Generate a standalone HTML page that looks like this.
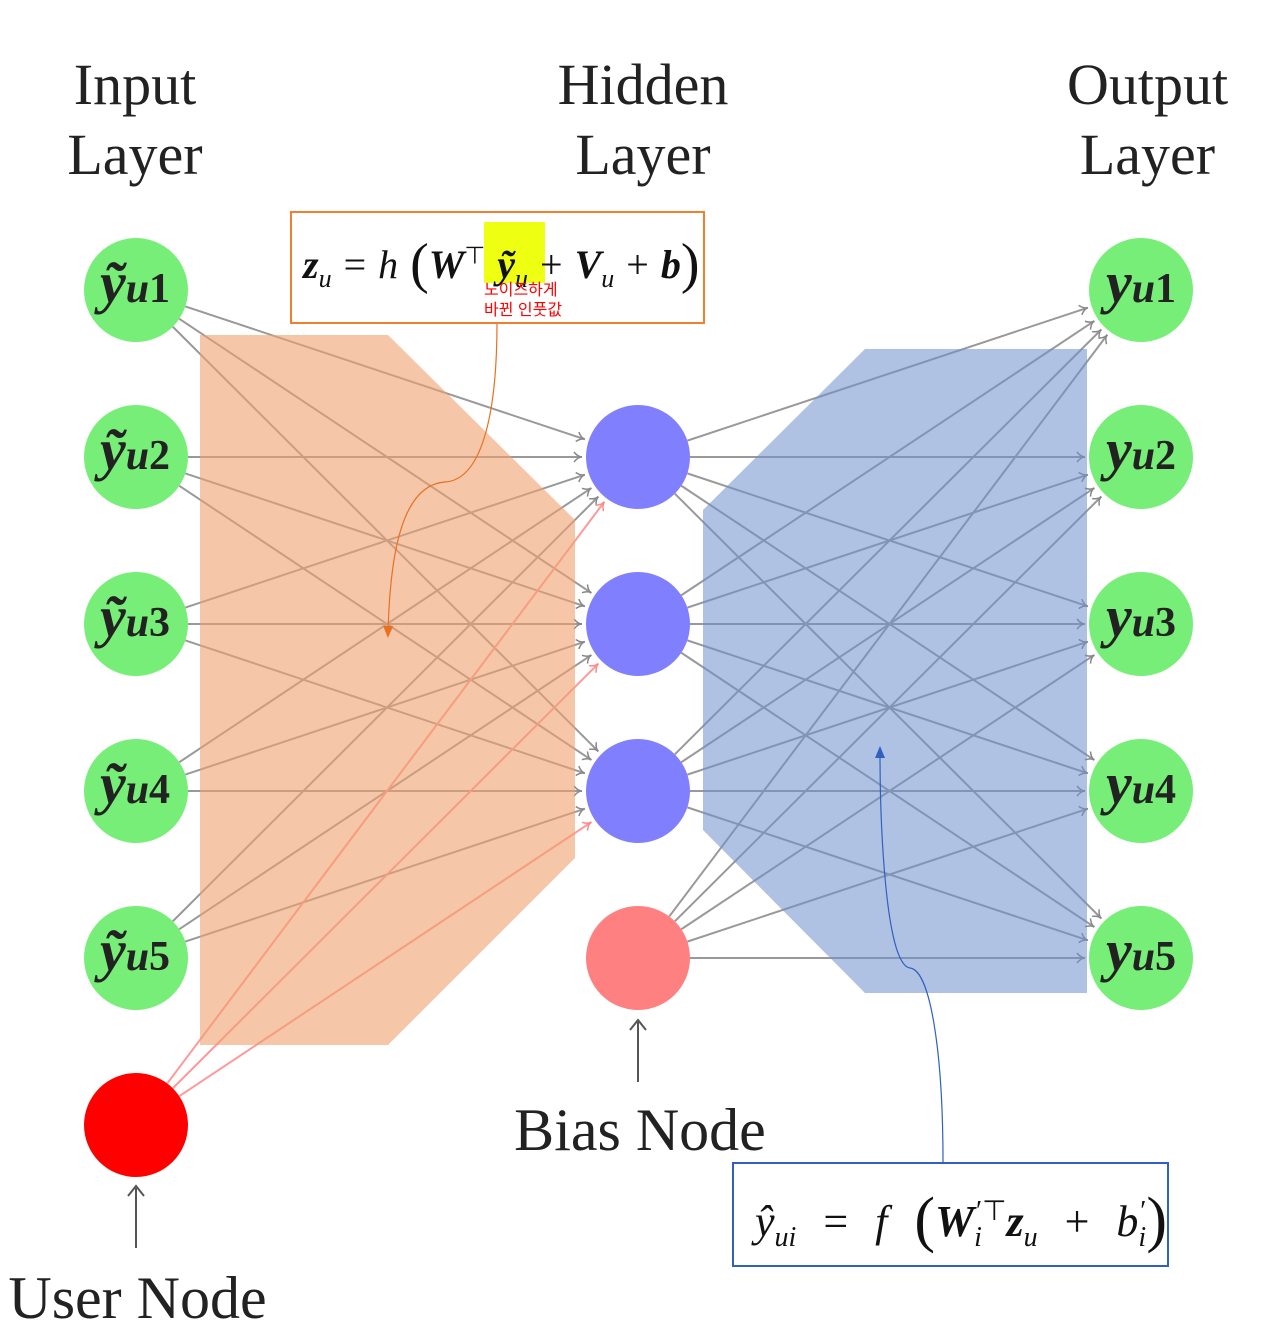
<!DOCTYPE html>
<html><head><meta charset="utf-8"><style>
html,body{margin:0;padding:0;background:#fff;}
body{width:1280px;height:1339px;position:relative;overflow:hidden;font-family:"Liberation Serif",serif;}
.t{position:absolute;font-size:58px;color:#222;text-align:center;line-height:70px;}
.box{position:absolute;background:#fff;box-sizing:border-box;}
.f{position:absolute;font-family:"Liberation Serif",serif;color:#111;white-space:nowrap;}
.kr{position:absolute;color:#f00;font-family:"Liberation Sans","Noto Sans CJK KR",sans-serif;font-size:16px;line-height:20px;}
</style></head><body>
<svg id="s" width="1280" height="1339" style="position:absolute;left:0;top:0">
<defs>
<marker id="ag" markerWidth="12" markerHeight="12" refX="10" refY="6" orient="auto" markerUnits="userSpaceOnUse"><path d="M2,1 Q6,6 10,6 Q6,6 2,11" fill="none" stroke="#888" stroke-width="1.5"/></marker>
<marker id="ar" markerWidth="12" markerHeight="12" refX="10" refY="6" orient="auto" markerUnits="userSpaceOnUse"><path d="M2,1 Q6,6 10,6 Q6,6 2,11" fill="none" stroke="#f88" stroke-width="1.5"/></marker>
<marker id="ao" markerWidth="12" markerHeight="12" refX="6" refY="6" orient="auto" markerUnits="userSpaceOnUse"><path d="M0,1 L12,6 L0,11Z" fill="#e87020"/></marker>
<marker id="ab" markerWidth="12" markerHeight="12" refX="6" refY="6" orient="auto" markerUnits="userSpaceOnUse"><path d="M0,1 L12,6 L0,11Z" fill="#3060c0"/></marker>
</defs>
<g id="lines"></g>
<polygon points="200,335 388,335 575,520 575,858 388,1045 200,1045" fill="#f0a070" opacity="0.6"/>
<polygon points="865,349 1087,349 1087,993 865,993 703,830 703,510" fill="#7090cc" opacity="0.55"/>
<g id="nodes"></g>
<line x1="638" y1="1082" x2="638" y2="1022" stroke="#555" stroke-width="2"/>
<path d="M630,1030 L638,1020 L646,1030" fill="none" stroke="#555" stroke-width="2"/>
<line x1="136" y1="1248" x2="136" y2="1188" stroke="#555" stroke-width="2"/>
<path d="M128,1196 L136,1186 L144,1196" fill="none" stroke="#555" stroke-width="2"/>
<path d="M497,323 C497,420 480,480 445,482 C400,485 390,560 388,632" fill="none" stroke="#e87020" stroke-width="1.2" marker-end="url(#ao)"/>
<path d="M943,1162 C943,1050 930,970 910,968 C885,965 880,820 880,752" fill="none" stroke="#3060c0" stroke-width="1.2" marker-end="url(#ab)"/>
</svg>
<div class="t" style="left:35px;top:50px;width:200px">Input<br>Layer</div>
<div class="t" style="left:533px;top:50px;width:220px">Hidden<br>Layer</div>
<div class="t" style="left:1030px;top:50px;width:235px">Output<br>Layer</div>
<div class="t" style="left:470px;top:1095px;width:340px;font-size:60px">Bias Node</div>
<div class="t" style="left:-10px;top:1263px;width:295px;font-size:60px">User Node</div>
<div class="box" style="left:290px;top:211px;width:415px;height:113px;border:2px solid #f08030"></div>
<div style="position:absolute;left:484px;top:222px;width:61px;height:61px;background:#eeff11"></div>
<div class="f" style="left:303px;top:232px;font-size:40px;word-spacing:2px"><b><i>z</i></b><sub style="font-size:26px"><i>u</i></sub> = <i>h</i> <span style="font-size:56px;vertical-align:-4px">(</span><b><i>W</i></b><sup style="font-size:24px">⊤</sup>&nbsp;<b><i>ỹ</i></b><sub style="font-size:26px"><i>u</i></sub> + <b><i>V</i></b><sub style="font-size:26px"><i>u</i></sub> + <b><i>b</i></b><span style="font-size:56px;vertical-align:-4px">)</span></div>
<div class="kr" style="left:484px;top:281px">노이즈하게<br>바뀐 인풋값</div>
<div class="box" style="left:732px;top:1162px;width:437px;height:105px;border:2px solid #3060c0"></div>
<div class="f" style="left:755px;top:1185px;font-size:44px;word-spacing:16px"><i>ŷ</i><sub style="font-size:28px"><i>ui</i></sub> = <i>f</i> <span style="font-size:62px;vertical-align:-4px">(</span><b><i>W</i></b><sub style="font-size:28px"><i>i</i></sub><sup style="font-size:28px;margin-left:-6px">′⊤</sup><b><i>z</i></b><sub style="font-size:28px"><i>u</i></sub> + <i>b</i><sub style="font-size:28px"><i>i</i></sub><sup style="font-size:28px;margin-left:-6px">′</sup><span style="font-size:62px;vertical-align:-4px">)</span></div>
<script>
var NS="http://www.w3.org/2000/svg",L=document.getElementById("lines"),N=document.getElementById("nodes");
var ys=[290,457,624,791,958],hy=[457,624,791],R=52;
function ln(x1,y1,x2,y2,c,m){var dx=x2-x1,dy=y2-y1,d=Math.hypot(dx,dy),ux=dx/d,uy=dy/d;
var e=document.createElementNS(NS,"line");e.setAttribute("x1",x1+ux*R);e.setAttribute("y1",y1+uy*R);e.setAttribute("x2",x2-ux*(R+4));e.setAttribute("y2",y2-uy*(R+4));
e.setAttribute("stroke",c);e.setAttribute("stroke-width","2");e.setAttribute("marker-end","url(#"+m+")");L.appendChild(e);}
function ci(x,y,c){var e=document.createElementNS(NS,"circle");e.setAttribute("cx",x);e.setAttribute("cy",y);e.setAttribute("r",R);e.setAttribute("fill",c);N.appendChild(e);}
ys.forEach(function(a){hy.forEach(function(b){ln(136,a,638,b,"#999","ag");});});
hy.forEach(function(b){ln(136,1125,638,b,"#f99","ar");});
hy.concat([958]).forEach(function(a){ys.forEach(function(b){ln(638,a,1141,b,"#999","ag");});});
var lbl=["1","2","3","4","5"];
ys.forEach(function(y,i){ci(136,y,"#77ee77");ci(1141,y,"#77ee77");
var t=document.createElementNS(NS,"text");t.setAttribute("x",135);t.setAttribute("y",y+12);t.setAttribute("text-anchor","middle");t.setAttribute("font-size","58");t.setAttribute("font-family","Liberation Serif, serif");t.setAttribute("fill","#222");t.setAttribute("font-weight","bold");t.innerHTML='<tspan font-style="italic">ỹ</tspan><tspan font-style="italic" font-size="42">u</tspan><tspan font-size="42">'+lbl[i]+'</tspan>';N.appendChild(t);
var t2=t.cloneNode(true);t2.setAttribute("x",1141);t2.innerHTML='<tspan font-style="italic">y</tspan><tspan font-style="italic" font-size="42">u</tspan><tspan font-size="42">'+lbl[i]+'</tspan>';N.appendChild(t2);});
hy.forEach(function(y){ci(638,y,"#8080ff");});
ci(638,958,"#ff8080");ci(136,1125,"#ff0000");
</script>
</body></html>
